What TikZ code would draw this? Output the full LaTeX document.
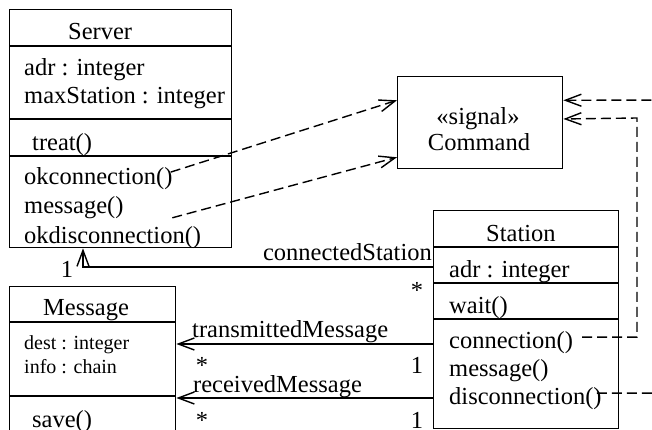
\documentclass[tikz,border=0pt]{standalone}
\usepackage{fontspec}
\setmainfont{Liberation Serif}
\usetikzlibrary{arrows.meta,calc}
\begin{document}
\begin{tikzpicture}[x=1pt,y=-1pt,
  every node/.style={font=\fontsize{24.5}{29}\selectfont, inner sep=0pt},
  txt/.style={anchor=base west},
  smalltxt/.style={anchor=base west, font=\fontsize{20}{24}\selectfont},
  box/.style={draw, line width=1.4pt, anchor=north west, inner sep=0pt},
  sep/.style={line width=1.4pt},
  nav/.style={line width=1.4pt, -{Straight Barb[length=16pt,width=12pt]}},
  dep/.style={nav, dash pattern=on 10pt off 5pt},
]
\useasboundingbox (0,0) rectangle (652,430);
\clip (0,0) rectangle (652,430);

% class Server
\node[box, minimum width=222pt, minimum height=238pt] (server) at (9,9) {};
\draw[sep] (server.west |- 0,46) -- (server.east |- 0,46);
\draw[sep] (server.west |- 0,119) -- (server.east |- 0,119);
\draw[sep] (server.west |- 0,156) -- (server.east |- 0,156);
\node[txt] (srvname) at (68,40) {Server};
\node[txt] (sadr) at (24,76) {adr : integer};
\node[txt] (smax) at (24,104) {maxStation : integer};
\node[txt] (streat) at (32,151) {treat()};
\node[txt] (okc) at (24,185) {okconnection()};
\node[txt] (smsg) at (24,213) {message()};
\node[txt] (okd) at (24,243) {okdisconnection()};

% signal Command
\node[box, minimum width=165pt, minimum height=92pt] (cmd) at (397,76) {};
\node[anchor=base] (sig) at (478,125) {«signal»};
\node[anchor=base] (cmdname) at (479,151) {Command};

% class Station
\node[box, minimum width=185pt, minimum height=218pt] (station) at (433,210) {};
\draw[sep] (station.west |- 0,247) -- (station.east |- 0,247);
\draw[sep] (station.west |- 0,283) -- (station.east |- 0,283);
\draw[sep] (station.west |- 0,319) -- (station.east |- 0,319);
\node[txt] (stname) at (486,241) {Station};
\node[txt] (stadr) at (449,277) {adr : integer};
\node[txt] (stwait) at (449,313) {wait()};
\node[txt] (conn) at (449,348) {connection()};
\node[txt] (stmsg) at (449,376) {message()};
\node[txt] (disc) at (449,404) {disconnection()};

% class Message
\node[box, minimum width=166pt, minimum height=190pt] (msg) at (9,286) {};
\draw[sep] (msg.west |- 0,322) -- (msg.east |- 0,322);
\draw[sep] (msg.west |- 0,396) -- (msg.east |- 0,396);
\node[txt] (msgname) at (43,315) {Message};
\node[smalltxt] (mdest) at (24,349) {dest : integer};
\node[smalltxt] (minfo) at (24,373) {info : chain};
\node[txt] (msave) at (32,427) {save()};

% associations
\coordinate (srvfoot) at ($(server.south west)+(74,0)$);
\draw[nav] (station.west |- 0,267) -| (srvfoot);
\draw[nav] (station.west |- 0,344) -- (msg.east |- 0,344);
\draw[nav] (station.west |- 0,398) -- (msg.east |- 0,398);

\node[anchor=base east] (lcs) at (432,260) {connectedStation};
\node[anchor=base] (mcs1) at (67,277) {1};
\node[anchor=base] (mcs2) at (417,298) {*};
\node[txt] (ltm) at (192,337) {transmittedMessage};
\node[anchor=base] (mtm1) at (202,373) {*};
\node[anchor=base] (mtm2) at (417,373) {1};
\node[txt] (lrm) at (193,392) {receivedMessage};
\node[anchor=base] (mrm1) at (202,428) {*};
\node[anchor=base] (mrm2) at (417,428) {1};

% signal dependencies
\coordinate (cmdW1) at ($(cmd.north west)!0.26!(cmd.south west)$);
\coordinate (cmdW2) at ($(cmd.north west)!0.87!(cmd.south west)$);
\coordinate (cmdE1) at ($(cmd.north east)!0.26!(cmd.south east)$);
\coordinate (cmdE2) at ($(cmd.north east)!0.46!(cmd.south east)$);
\draw[dep] ($(okc.east)+(-2,-7)$) -- (cmdW1);
\draw[dep] ($(okd.north east)+(-29,-8)$) -- (cmdW2);
\coordinate (bendC) at (637,118);
\draw[dep] ($(conn.east)+(9,-5)$) -| (bendC) -- (cmdE2);
\coordinate (bendD) at (680,100);
\draw[dep] ($(disc.east)+(-5,-5)$) -| (bendD) -- (cmdE1);
\end{tikzpicture}
\end{document}
